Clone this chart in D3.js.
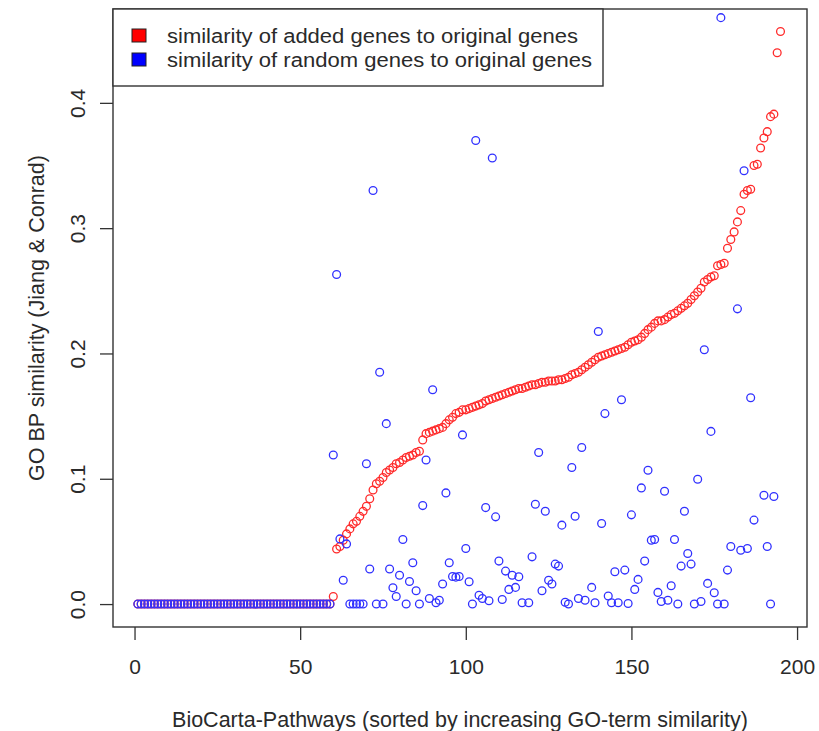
<!DOCTYPE html>
<html>
<head>
<meta charset="utf-8">
<script src="https://cdn.jsdelivr.net/npm/d3@7"></script>
<style>
   body { margin: 0; background: #fff; }
   svg text { font-family: "Liberation Sans", Arial, sans-serif; fill: #2a2a2a; }
</style>
</head>
<body>
<div id="scatter"></div>
<script>
//--------------------------------------------------------------
// DATA
//--------------------------------------------------------------
// pathway rank 1..195, similarity of added genes (red), sorted
var addedSim = [
   0, 0, 0, 0, 0, 0, 0, 0, 0, 0,
   0, 0, 0, 0, 0, 0, 0, 0, 0, 0,
   0, 0, 0, 0, 0, 0, 0, 0, 0, 0,
   0, 0, 0, 0, 0, 0, 0, 0, 0, 0,
   0, 0, 0, 0, 0, 0, 0, 0, 0, 0,
   0, 0, 0, 0, 0, 0, 0, 0, 0,
   0.006, 0.044, 0.046, 0.051, 0.056, 0.060, 0.064, 0.066, 0.070, 0.074,
   0.078, 0.084, 0.091, 0.096, 0.098, 0.101, 0.105, 0.107, 0.109, 0.112,
   0.113, 0.115, 0.117, 0.118, 0.119, 0.121, 0.122, 0.131, 0.136, 0.137,
   0.138, 0.139, 0.140, 0.141, 0.144, 0.147, 0.149, 0.152, 0.153, 0.155,
   0.155, 0.156, 0.157, 0.158, 0.159, 0.160, 0.162, 0.163, 0.164, 0.165,
   0.166, 0.167, 0.168, 0.169, 0.170, 0.171, 0.172, 0.172, 0.173, 0.174,
   0.175, 0.175, 0.176, 0.177, 0.177, 0.178, 0.178, 0.178, 0.179, 0.179,
   0.180, 0.181, 0.183, 0.184, 0.185, 0.187, 0.189, 0.191, 0.193, 0.195,
   0.197, 0.198, 0.199, 0.200, 0.201, 0.202, 0.203, 0.204, 0.205, 0.207,
   0.209, 0.210, 0.211, 0.213, 0.216, 0.219, 0.221, 0.224, 0.226, 0.226,
   0.227, 0.229, 0.231, 0.232, 0.234, 0.236, 0.238, 0.240, 0.243, 0.246,
   0.249, 0.252, 0.257, 0.259, 0.261, 0.262, 0.270, 0.271, 0.272, 0.284,
   0.291, 0.297, 0.305, 0.314, 0.327, 0.330, 0.331, 0.350, 0.351, 0.364,
   0.372, 0.377, 0.389, 0.391, 0.440, 0.457
];

// random genes (blue): pathway rank and similarity
var randomIdx = [
   1, 2, 3, 4, 5, 6, 7, 8, 9, 10, 11, 12, 13, 14, 15, 16, 17, 18, 19, 20,
   21, 22, 23, 24, 25, 26, 27, 28, 29, 30, 31, 32, 33, 34, 35, 36, 37, 38, 39, 40,
   41, 42, 43, 44, 45, 46, 47, 48, 49, 50, 51, 52, 53, 54, 55, 56, 57, 58, 59,
   60, 61, 62, 63, 64, 65, 66, 67, 68, 69, 70, 71, 72, 73, 74, 75, 76, 77, 78, 79,
   80, 81, 82, 83, 84, 85, 86, 87, 88, 89, 90, 91, 92, 93, 94, 95, 96, 97, 98, 99,
   100, 101, 102, 103, 104, 105, 106, 107, 108, 109, 110, 111, 112, 113, 114, 115, 116, 117, 119,
   120, 121, 122, 123, 124, 125, 126, 127, 128, 129, 130, 131, 132, 133, 134, 135, 136, 138, 139,
   140, 141, 142, 143, 144, 145, 146, 147, 148, 149, 150, 151, 152, 153, 154, 155, 156, 157, 158, 159,
   160, 161, 162, 163, 164, 165, 166, 167, 168, 169, 170, 171, 172, 173, 174, 175, 176, 177, 178, 179,
   180, 182, 183, 184, 185, 186, 187, 190, 191, 192, 193
];
var randomSim = [
   0, 0, 0, 0, 0, 0, 0, 0, 0, 0, 0, 0, 0, 0, 0, 0, 0, 0, 0, 0,
   0, 0, 0, 0, 0, 0, 0, 0, 0, 0, 0, 0, 0, 0, 0, 0, 0, 0, 0, 0,
   0, 0, 0, 0, 0, 0, 0, 0, 0, 0, 0, 0, 0, 0, 0, 0, 0, 0, 0,
   0.119, 0.263, 0.052, 0.019, 0.048, 0, 0, 0, 0, 0, 0.112, 0.028, 0.330, 0, 0.185, 0, 0.144, 0.028, 0.013, 0.006,
   0.023, 0.0515, 0, 0.018, 0.033, 0.0106, 0, 0.0786, 0.115, 0.0045, 0.171, 0.001, 0.003, 0.016, 0.0887, 0.033, 0.022, 0.0215, 0.022, 0.135,
   0.0444, 0.0178, 0, 0.370, 0.007, 0.0045, 0.077, 0.0026, 0.356, 0.0696, 0.0343, 0.0037, 0.0263, 0.0117, 0.023, 0.0133, 0.0218, 0.001, 0.001,
   0.0377, 0.0797, 0.121, 0.0106, 0.0741, 0.019, 0.016, 0.0319, 0.0303, 0.063, 0.0015, 0, 0.109, 0.0701, 0.0045, 0.125, 0.003, 0.0133, 0.001,
   0.2175, 0.0643, 0.152, 0.0064, 0.001, 0.0258, 0.001, 0.163, 0.0271, 0.0005, 0.0712, 0.0117, 0.0197, 0.0927, 0.0343, 0.1068, 0.051, 0.0515, 0.0093, 0.002,
   0.090, 0.003, 0.0146, 0.0515, 0, 0.0303, 0.0741, 0.0404, 0.0319, 0, 0.0996, 0.002, 0.203, 0.0165, 0.1378, 0.009, 0, 0.468, 0, 0.0271,
   0.046, 0.2356, 0.043, 0.3458, 0.0444, 0.1647, 0.067, 0.0868, 0.046, 0, 0.0858
];

var xTicks = [0, 50, 100, 150, 200];
var yTicks = [0, 0.1, 0.2, 0.3, 0.4];
var legendLabels = [
   "similarity of added genes to original genes",
   "similarity of random genes to original genes"
];
var seriesColors = ["#ff0000", "#0000ff"];
var pointColors = ["#ff2a2a", "#3030ff"];
var xTitle = "BioCarta-Pathways (sorted by increasing GO-term similarity)";
var yTitle = "GO BP similarity (Jiang & Conrad)";

//--------------------------------------------------------------
// CHART SIZE PARAMETERS
//--------------------------------------------------------------
var width = 819;
var height = 731;
var margin = { top: 9, right: 12, bottom: 104, left: 113 };
var chartWidth = width - margin.left - margin.right;
var chartHeight = height - margin.top - margin.bottom;

//--------------------------------------------------------------
// BUILD
//--------------------------------------------------------------
var svg = d3.select("#scatter").append("svg")
   .attr("width", width)
   .attr("height", height);

var chartGroup = svg.append("g")
   .attr("transform", `translate(${margin.left}, ${margin.top})`);

// R-like padded domains
var xScale = d3.scaleLinear().domain([-6.5, 203]).range([0, chartWidth]);
var yScale = d3.scaleLinear().domain([-0.0183, 0.4749]).range([chartHeight, 0]);

// points: added genes first, random genes on top
var addedData = addedSim.map((v, i) => ({ x: i + 1, y: v }));
var randomData = randomIdx.map((d, i) => ({ x: d, y: randomSim[i] }));

chartGroup.append("g").selectAll("circle")
   .data(addedData)
   .enter()
   .append("circle")
   .attr("cx", d => xScale(d.x))
   .attr("cy", d => yScale(d.y))
   .attr("r", 3.9)
   .attr("fill", "none")
   .attr("stroke", pointColors[0])
   .attr("stroke-width", 1.3);

chartGroup.append("g").selectAll("circle")
   .data(randomData)
   .enter()
   .append("circle")
   .attr("cx", d => xScale(d.x))
   .attr("cy", d => yScale(d.y))
   .attr("r", 3.9)
   .attr("fill", "none")
   .attr("stroke", pointColors[1])
   .attr("stroke-width", 1.3);

// x axis
var bottomAxis = d3.axisBottom(xScale).tickValues(xTicks).tickSize(13).tickFormat(d3.format("d"));
var xAxis = chartGroup.append("g")
   .attr("transform", `translate(0, ${chartHeight})`)
   .call(bottomAxis);
xAxis.select(".domain").remove();
xAxis.selectAll(".tick line").attr("stroke", "#333").attr("stroke-width", 1.3);
xAxis.selectAll(".tick text")
   .attr("y", 40)
   .attr("dy", "0.35em")
   .attr("fill", "#2a2a2a")
   .style("font-size", "21px");

// y axis, labels parallel to the axis like R
var leftAxis = d3.axisLeft(yScale).tickValues(yTicks).tickSize(13).tickFormat(d3.format(".1f"));
var yAxis = chartGroup.append("g").call(leftAxis);
yAxis.select(".domain").remove();
yAxis.selectAll(".tick line").attr("stroke", "#333").attr("stroke-width", 1.3);
yAxis.selectAll(".tick text")
   .attr("x", null)
   .attr("dy", "0.35em")
   .attr("text-anchor", "middle")
   .attr("transform", "translate(-35, 0) rotate(-90)")
   .attr("fill", "#2a2a2a")
   .style("font-size", "21px");

// box round the plot
chartGroup.append("rect")
   .attr("width", chartWidth)
   .attr("height", chartHeight)
   .attr("fill", "none")
   .attr("stroke", "#333")
   .attr("stroke-width", 1.4);

// axis titles
svg.append("text")
   .attr("x", margin.left + chartWidth / 2)
   .attr("y", 719)
   .attr("dy", "0.35em")
   .attr("text-anchor", "middle")
   .style("font-size", "21.5px")
   .text(xTitle);

svg.append("text")
   .attr("transform", `translate(36, ${margin.top + chartHeight / 2}) rotate(-90)`)
   .attr("dy", "0.35em")
   .attr("text-anchor", "middle")
   .style("font-size", "21.5px")
   .text(yTitle);

// legend top left
var legend = chartGroup.append("g");
legend.append("rect")
   .attr("width", 490)
   .attr("height", 77)
   .attr("fill", "#fff")
   .attr("stroke", "#333")
   .attr("stroke-width", 1.4);

legendLabels.forEach((label, i) => {
   var ly = 27 + i * 24;
   legend.append("rect")
      .attr("x", 19)
      .attr("y", ly - 7)
      .attr("width", 14)
      .attr("height", 13)
      .attr("fill", seriesColors[i])
      .attr("stroke", "#222")
      .attr("stroke-width", 1);
   legend.append("text")
      .attr("x", 54)
      .attr("y", ly)
      .attr("dy", "0.35em")
      .attr("textLength", i == 0 ? 411 : 425)
      .attr("lengthAdjust", "spacingAndGlyphs")
      .style("font-size", "20px")
      .text(label);
});
</script>
</body>
</html>
